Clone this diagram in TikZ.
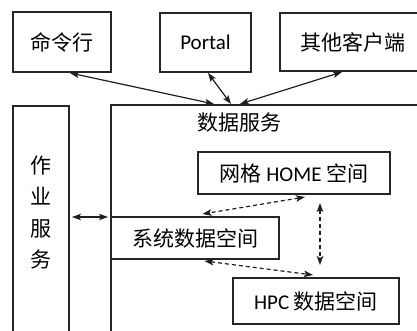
\documentclass[tikz,border=0pt]{standalone}
\usepackage{fontspec}
\setmainfont{Carlito}
\newfontfamily\cjk{Noto Sans CJK SC}
\usetikzlibrary{arrows.meta,calc}
\begin{document}
\begin{tikzpicture}[x=1pt,y=-1pt,
  font=\fontsize{21}{24}\selectfont,
  box/.style={draw=black!85, line width=1.3pt, inner sep=0pt, outer sep=0pt, anchor=north west},
  arr/.style={draw=black!88, line width=1.2pt, {Stealth[length=9pt,width=6.5pt,inset=2pt]}-{Stealth[length=9pt,width=6.5pt,inset=2pt]}},
  darr/.style={arr, dash pattern=on 4pt off 3pt}]
\useasboundingbox (0,0) rectangle (417,331);
\clip (0,0) rectangle (417,331);
\node[box, minimum width=98pt, minimum height=60pt] (cmd) at (13,12) {\cjk 命令行};
\node[box, minimum width=91pt, minimum height=59pt] (portal) at (160,13) {Portal};
\node[box, minimum width=146pt, minimum height=58pt] (other) at (280,13) {\cjk 其他客户端};
\node[box, minimum width=56pt, minimum height=250pt] (jobs) at (13,106) {};
\node[box, minimum width=320pt, minimum height=250pt] (ds) at (111,105) {};
\node[align=center, font=\fontsize{21}{31.5}\selectfont\cjk] (jobtxt) at (41,212.5) {作\\业\\服\\务};
\node[font=\fontsize{21}{24}\selectfont\cjk] (dstitle) at (239,123) {数据服务};
\node[box, minimum width=192pt, minimum height=42pt] (grid) at (198,152) {{\cjk 网格} HOME {\cjk 空间}};
\node[box, minimum width=168pt, minimum height=42pt] (sys) at (111,217) {\cjk 系统数据空间};
\node[box, minimum width=166pt, minimum height=46pt] (hpc) at (233,278) {HPC {\cjk 数据空间}};
\coordinate (jl) at (jobs.east |- sys.north west);
\draw[arr] ([xshift=8pt,yshift=-1pt]cmd.south) -- ([xshift=103pt,yshift=1pt]ds.north west);
\draw[arr] ([xshift=2.5pt,yshift=-1pt]portal.south) -- ([xshift=120pt,yshift=1pt]ds.north west);
\draw[arr] ([xshift=62pt,yshift=-1pt]other.south west) -- ([xshift=129pt,yshift=1pt]ds.north west);
\draw[arr] ([xshift=3pt]jl) -- ([xshift=-3pt]sys.north west);
\draw[darr] ([xshift=11pt,yshift=-3pt]grid.south) -- ([xshift=7.5pt,yshift=3pt]sys.north);
\draw[darr] ([xshift=9.5pt,yshift=-2pt]sys.south) -- ([xshift=-3pt,yshift=3pt]hpc.north);
\draw[darr] ([xshift=26pt,yshift=-9pt]grid.south) -- ([xshift=4pt,yshift=13pt]hpc.north);
\end{tikzpicture}
\end{document}
